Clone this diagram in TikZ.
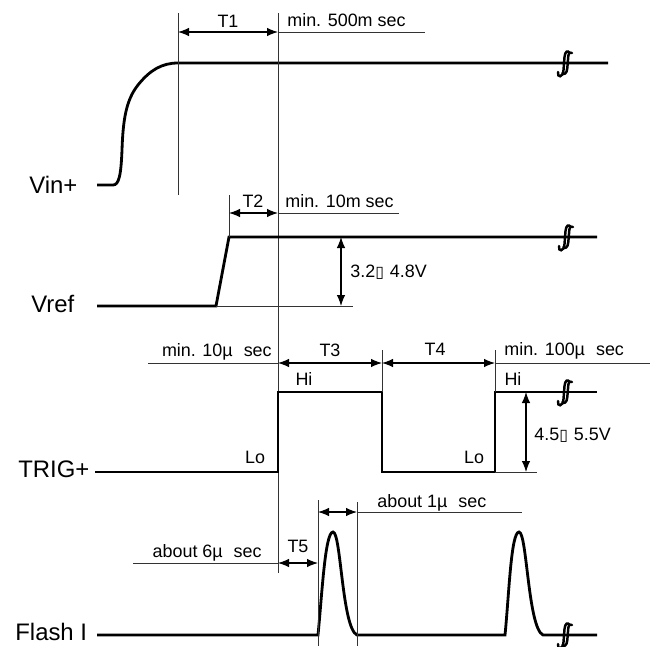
\documentclass[tikz,border=0pt]{standalone}
\usepackage{fontspec}
\setmainfont{Liberation Sans}
\newfontfamily\symfont{DejaVu Sans}
\usetikzlibrary{arrows.meta}
\begin{document}
\begin{tikzpicture}[x=0.02cm,y=-0.02cm,
  sig/.style={line width=1.6pt, line join=miter},
  thinline/.style={line width=0.5pt, black!80},
  dimarrow/.style={line width=0.6pt,{Latex[length=2.2mm,width=1.7mm]}-{Latex[length=2.2mm,width=1.7mm]}},
  big/.style={font=\fontsize{13.6}{16}\selectfont, inner sep=0, anchor=base west},
  small/.style={font=\fontsize{10.2}{12}\selectfont, inner sep=0},
  brk/.pic={
    \draw[line width=1.4pt, line cap=round] (-7,9) .. controls (-8,15) and (-2,15) .. (-1.5,7) -- (-0.5,-6) .. controls (0,-12) and (3,-13) .. (4.5,-10);
    \draw[line width=1.4pt, line cap=round] (-2.5,10) .. controls (-1.5,12) and (2,11) .. (2.3,5) -- (3.3,-7) .. controls (3.6,-10) and (5.5,-12) .. (7,-10);
  }
]
\useasboundingbox (0,0) rectangle (652,646);

% ---------- Vin+ ----------
\node[big] (lvin) at (29,193) {Vin+};
\coordinate (v0) at (97,185);
\coordinate (v1) at (178,63);
\coordinate (vend) at (608,63);
\draw[sig] (v0) -- (113,185) .. controls (119,185) and (121,175) .. (122,150) .. controls (123,120) and (126,100) .. (138,85) .. controls (150,70) and (162,63) .. (v1) -- (vend);
\draw[thinline] (178,13) -- (178,195);
\draw[thinline] (278,13) -- (278,573);
\coordinate (t1a) at (178,32);
\coordinate (t1b) at (278,32);
\coordinate (t1c) at (425,32);
\draw[dimarrow] (t1a) -- (t1b);
\draw[thinline] (t1b) -- (t1c);
\node[small, anchor=base] (T1) at (228,27) {T1};
\node[small, anchor=base west] (m500) at (287,26) {min. 500m sec};
\pic at (565,63) {brk};

% ---------- Vref ----------
\node[big] (lvref) at (31,312) {Vref};
\draw[sig] (97,306) -- (216,306) -- (229,237) -- (597,237);
\draw[thinline] (229,195) -- (229,237);
\draw[thinline] (216,306) -- (353,306);
\coordinate (t2a) at (229,213);
\coordinate (t2b) at (278,213);
\coordinate (t2c) at (399,213);
\draw[dimarrow] (t2a) -- (t2b);
\draw[thinline] (t2b) -- (t2c);
\node[small, anchor=base] (T2) at (253,207) {T2};
\node[small, anchor=base west] (m10) at (285,207) {min. 10m sec};
\coordinate (va) at (341,237);
\coordinate (vb) at (341,306);
\draw[dimarrow] (va) -- (vb);
\node[small, anchor=base west] (vr) at (350,277) {3.2{\symfont\fontsize{9}{10}\selectfont ▯}\,\,4.8V};
\pic at (566,237) {brk};

% ---------- TRIG+ ----------
\node[big] (ltrig) at (18,477) {TRIG+};
\draw[sig] (95,472) -- (278,472) -- (278,392) -- (382,392) -- (382,472) -- (495,472) -- (495,392) -- (597,392);
\draw[thinline] (382,350) -- (382,392);
\draw[thinline] (495,350) -- (495,392);
\coordinate (d0) at (148,363);
\coordinate (d1) at (278,363);
\coordinate (d2) at (382,363);
\coordinate (d3) at (495,363);
\coordinate (d4) at (650,363);
\draw[thinline] (d0) -- (d1);
\draw[dimarrow] (d1) -- (d2);
\draw[dimarrow] (d2) -- (d3);
\draw[thinline] (d3) -- (d4);
\node[small, anchor=base east] (m10u) at (272,356) {min. 10µ\hspace{2.2mm}sec};
\node[small, anchor=base] (T3) at (330,356) {T3};
\node[small, anchor=base] (T4) at (435,355) {T4};
\node[small, anchor=base west] (m100u) at (504,355) {min. 100µ\hspace{2.2mm}sec};
\node[small, anchor=base] (hi1) at (304,385) {Hi};
\node[small, anchor=base] (hi2) at (513,385) {Hi};
\node[small, anchor=base] (lo1) at (255,463) {Lo};
\node[small, anchor=base] (lo2) at (474,463) {Lo};
\draw[thinline] (495,472) -- (537,472);
\coordinate (ta) at (526,392);
\coordinate (tb) at (526,472);
\draw[dimarrow] (ta) -- (tb);
\node[small, anchor=base west] (tr) at (534,440) {4.5{\symfont\fontsize{9}{10}\selectfont ▯}\,\,5.5V};
\pic at (565,392) {brk};

% ---------- Flash I ----------
\node[big] (lflash) at (15,640) {Flash I};
\draw[sig] (97,635) -- (318,635) .. controls (322,595) and (325,532) .. (333,532) .. controls (341,532) and (342,628) .. (357,635) -- (505,635) .. controls (509,595) and (511,532) .. (519,532) .. controls (527,532) and (528,628) .. (543,635) -- (597,635);
\draw[thinline] (318,500) -- (318,646);
\draw[thinline] (357,502) -- (357,646);
\coordinate (f1) at (318,512);
\coordinate (f2) at (357,512);
\coordinate (f3) at (522,512);
\draw[dimarrow] (f1) -- (f2);
\draw[thinline] (f2) -- (f3);
\node[small, anchor=base west] (a1) at (377,507) {about 1µ\hspace{2.2mm}sec};
\coordinate (g0) at (133,563);
\coordinate (g1) at (278,563);
\coordinate (g2) at (318,563);
\draw[thinline] (g0) -- (g1);
\draw[dimarrow] (g1) -- (g2);
\node[small, anchor=base] (T5) at (298,552) {T5};
\node[small, anchor=base east] (a6) at (262,557) {about 6µ\hspace{2.2mm}sec};
\pic at (565,635) {brk};
\end{tikzpicture}
\end{document}
